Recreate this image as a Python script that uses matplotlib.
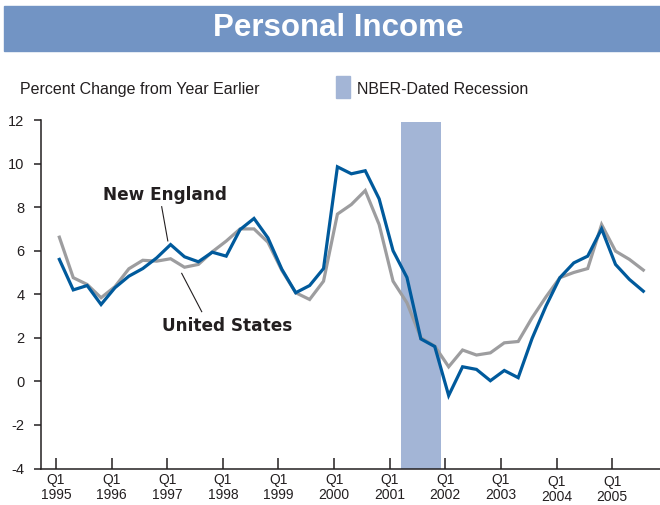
import numpy as np
import matplotlib
matplotlib.use('Agg')
from matplotlib import pyplot as plt
from matplotlib.patches import Rectangle
from matplotlib.transforms import ScaledTranslation

# percent change from year earlier, quarterly, Q1 1995 .. Q3 2005
new_england = [5.60, 4.20, 4.40, 3.53, 4.30, 4.83, 5.18, 5.67, 6.28, 5.72,
               5.49, 5.93, 5.75, 6.97, 7.48, 6.59, 5.15, 4.07, 4.40, 5.18,
               9.85, 9.53, 9.67, 8.38, 6.00, 4.77, 1.95, 1.60, -0.65, 0.67,
               0.55, 0.03, 0.50, 0.17, 1.97, 3.46, 4.76, 5.44, 5.75, 7.00,
               5.37, 4.68, 4.14]
united_states = [6.62, 4.76, 4.45, 3.84, 4.35, 5.17, 5.56, 5.52, 5.63, 5.24,
                 5.37, 5.95, 6.44, 7.00, 7.00, 6.39, 5.10, 4.07, 3.76, 4.60,
                 7.68, 8.12, 8.76, 7.20, 4.60, 3.61, 2.00, 1.62, 0.67, 1.44,
                 1.21, 1.31, 1.77, 1.83, 2.92, 3.88, 4.76, 5.00, 5.18, 7.20,
                 5.98, 5.60, 5.11]
start_year = 1995
years = list(range(1995, 2006))
tick_labels = [f'Q1\n{y}' for y in years]
recession = (2001.2, 2001.92)  # NBER: Mar 2001 - Nov 2001

x = start_year + np.arange(len(new_england)) / 4 + 0.06

plt.rcParams['font.family'] = ['Liberation Sans', 'DejaVu Sans']
plt.rcParams['axes.unicode_minus'] = False
text_col = '#231f20'

fig = plt.figure(figsize=(6.6, 5.05), dpi=100)

# title banner
fig.patches.append(Rectangle((4 / 660, 1 - 50.5 / 505), 1, 44.5 / 505,
                             transform=fig.transFigure, color='#7294c4', zorder=0))
fig.text(0.512, 1 - 28 / 505, 'Personal Income', color='white', fontsize=22.5,
         fontweight='bold', ha='center', va='center')

fig.text(20 / 660, 1 - 90 / 505, 'Percent Change from Year Earlier', fontsize=11.5,
         color=text_col, va='center')
fig.patches.append(Rectangle((336 / 660, 1 - 98 / 505), 14.5 / 660, 22 / 505,
                             transform=fig.transFigure, color='#a3b5d6'))
fig.text(357 / 660, 1 - 90 / 505, 'NBER-Dated Recession', fontsize=11.5,
         color=text_col, va='center')

ax = fig.add_axes([41 / 660, 1 - 468.5 / 505, 1 - 41 / 660, 348.5 / 505])
ax.axvspan(recession[0], recession[1], ymin=0, ymax=(11.9 + 4) / 16,
           color='#a3b5d6', lw=0, zorder=1)
ax.plot(x, united_states, color='#9d9d9f', lw=2.3, zorder=2, solid_joinstyle='miter')
ax.plot(x, new_england, color='#005a9c', lw=2.3, zorder=3, solid_joinstyle='miter')

ax.set_xlim(1994.73, 2005.86)
ax.set_ylim(-4, 12)
ax.set_yticks(range(-4, 13, 2))
ax.set_xticks(years)
ax.set_xticklabels(tick_labels, linespacing=1.1)

for s in ['top', 'right']:
    ax.spines[s].set_visible(False)
for s in ['left', 'bottom']:
    ax.spines[s].set_linewidth(1.1)
    ax.spines[s].set_color(text_col)
ax.tick_params(axis='x', direction='in', length=8, width=1.1, pad=3,
               labelsize=10, colors=text_col)
ax.tick_params(axis='y', direction='out', length=5, width=1.1, pad=7,
               labelsize=10.5, colors=text_col)
# 2004 and 2005 labels sit a little lower in the original
for lab in ax.get_xticklabels()[-2:]:
    lab.set_transform(lab.get_transform() +
                      ScaledTranslation(0, -2.5 / 100, fig.dpi_scale_trans))

# series labels with leader lines
ax.text(1996.96, 8.56, 'New England', fontsize=12.2, fontweight='bold',
        family='DejaVu Sans', color=text_col, ha='center', va='center')
ax.plot([1996.90, 1997.01], [8.02, 6.45], color=text_col, lw=0.8)
ax.text(1998.07, 2.56, 'United States', fontsize=12.2, fontweight='bold',
        family='DejaVu Sans', color=text_col, ha='center', va='center')
ax.plot([1997.26, 1997.62], [4.96, 3.20], color=text_col, lw=0.8)

fig.savefig('out.png', dpi=100)
